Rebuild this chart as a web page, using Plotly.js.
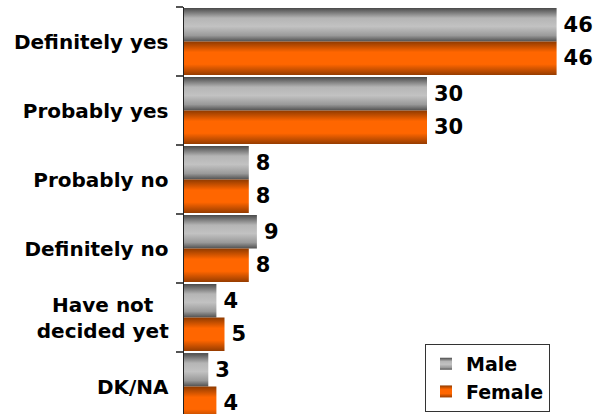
<!DOCTYPE html>
<html>
<head>
<meta charset="utf-8">
<script src="https://cdn.plot.ly/plotly-3.0.1.min.js"></script>
<style>
  html, body { margin: 0; padding: 0; background: #ffffff; overflow: hidden; }
  #wrap { width: 594px; height: 414px; overflow: hidden; }
  #chart { width: 594px; height: 421px; }
</style>
</head>
<body>
<div id="wrap"><div id="chart"></div></div>
<script>
const categories = ["Definitely yes", "Probably yes", "Probably no", "Definitely no", "Have not<br>decided yet", "DK/NA"];
const maleValues = [46, 30, 8, 9, 4, 3];
const femaleValues = [46, 30, 8, 8, 5, 4];
const seriesNames = ["Male", "Female"];

const FONT = "DejaVu Sans, Arial, sans-serif";

const traces = [
  {
    type: "bar", orientation: "h", name: seriesNames[0],
    y: categories, x: maleValues,
    text: maleValues.map(String), textposition: "outside", cliponaxis: false,
    textfont: { family: FONT, size: 21, color: "#000000", weight: "bold" },
    marker: { color: "#b0b0b0", line: { width: 0 } },
    hoverinfo: "skip"
  },
  {
    type: "bar", orientation: "h", name: seriesNames[1],
    y: categories, x: femaleValues,
    text: femaleValues.map(String), textposition: "outside", cliponaxis: false,
    textfont: { family: FONT, size: 21, color: "#000000", weight: "bold" },
    marker: { color: "#ff6600", line: { width: 0 } },
    hoverinfo: "skip"
  }
];

const layout = {
  width: 594, height: 421,
  margin: { l: 184, r: 5, t: 7, b: 0, pad: 0 },
  paper_bgcolor: "#ffffff", plot_bgcolor: "#ffffff",
  barmode: "group", bargap: 0.03, bargroupgap: 0,
  font: { family: FONT, color: "#000000" },
  xaxis: {
    range: [0, 50], showgrid: false, zeroline: false, showline: false,
    showticklabels: false, ticks: ""
  },
  yaxis: {
    autorange: "reversed", showgrid: false, zeroline: false,
    showline: true, linecolor: "#222222", linewidth: 1.5,
    ticks: "outside", tickson: "boundaries", ticklen: 7, tickcolor: "#555555", tickwidth: 1.5,
    ticklabelstandoff: 10,
    tickfont: { family: FONT, size: 20, color: "#000000", weight: "bold" }
  },
  showlegend: true,
  legend: {
    x: 0.595, xanchor: "left", y: 0.022, yanchor: "bottom",
    bgcolor: "#ffffff", bordercolor: "#333333", borderwidth: 1,
    font: { family: FONT, size: 19, color: "#000000", weight: "bold" },
    tracegroupgap: 0, itemwidth: 30
  }
};

const gd = document.getElementById("chart");
Plotly.newPlot(gd, traces, layout, { displayModeBar: false, staticPlot: true }).then(function () {
  const svgNS = "http://www.w3.org/2000/svg";
  const svg = gd.querySelector("svg.main-svg");
  let defs = svg.querySelector("defs");
  if (!defs) { defs = document.createElementNS(svgNS, "defs"); svg.insertBefore(defs, svg.firstChild); }
  function addGrad(id, stops) {
    const g = document.createElementNS(svgNS, "linearGradient");
    g.setAttribute("id", id);
    g.setAttribute("x1", "0"); g.setAttribute("y1", "0");
    g.setAttribute("x2", "0"); g.setAttribute("y2", "1");
    stops.forEach(function (s) {
      const st = document.createElementNS(svgNS, "stop");
      st.setAttribute("offset", s[0]);
      st.setAttribute("stop-color", s[1]);
      g.appendChild(st);
    });
    defs.appendChild(g);
  }
  addGrad("gradMale", [["0", "#4a4a4a"], ["0.3", "#b5b5b5"], ["0.55", "#c2c2c2"], ["0.82", "#9a9a9a"], ["1", "#505050"]]);
  addGrad("gradFemale", [["0", "#8f3a00"], ["0.32", "#ff6600"], ["0.68", "#ff6600"], ["1", "#963c00"]]);
  const grads = ["url(#gradMale)", "url(#gradFemale)"];
  gd.querySelectorAll(".barlayer .trace").forEach(function (tr, i) {
    tr.querySelectorAll(".point path").forEach(function (p) { p.style.fill = grads[i]; });
    tr.querySelectorAll(".point text").forEach(function (t) {
      const prev = t.getAttribute("transform") || "";
      t.setAttribute("transform", "translate(4,0) " + prev);
    });
  });
  gd.querySelectorAll(".legend .traces").forEach(function (tr, i) {
    tr.querySelectorAll(".legendpoints path").forEach(function (p) { p.style.fill = grads[i]; });
  });
  // center-align multi-line tick labels
  gd.querySelectorAll(".ytick text").forEach(function (t) {
    const spans = t.querySelectorAll("tspan.line");
    if (spans.length > 1) {
      const bb = t.getBBox();
      const cx = bb.x + bb.width / 2;
      t.setAttribute("text-anchor", "middle");
      t.setAttribute("x", cx);
      spans.forEach(function (s) { s.setAttribute("x", cx); });
    }
  });
});
</script>
</body>
</html>
